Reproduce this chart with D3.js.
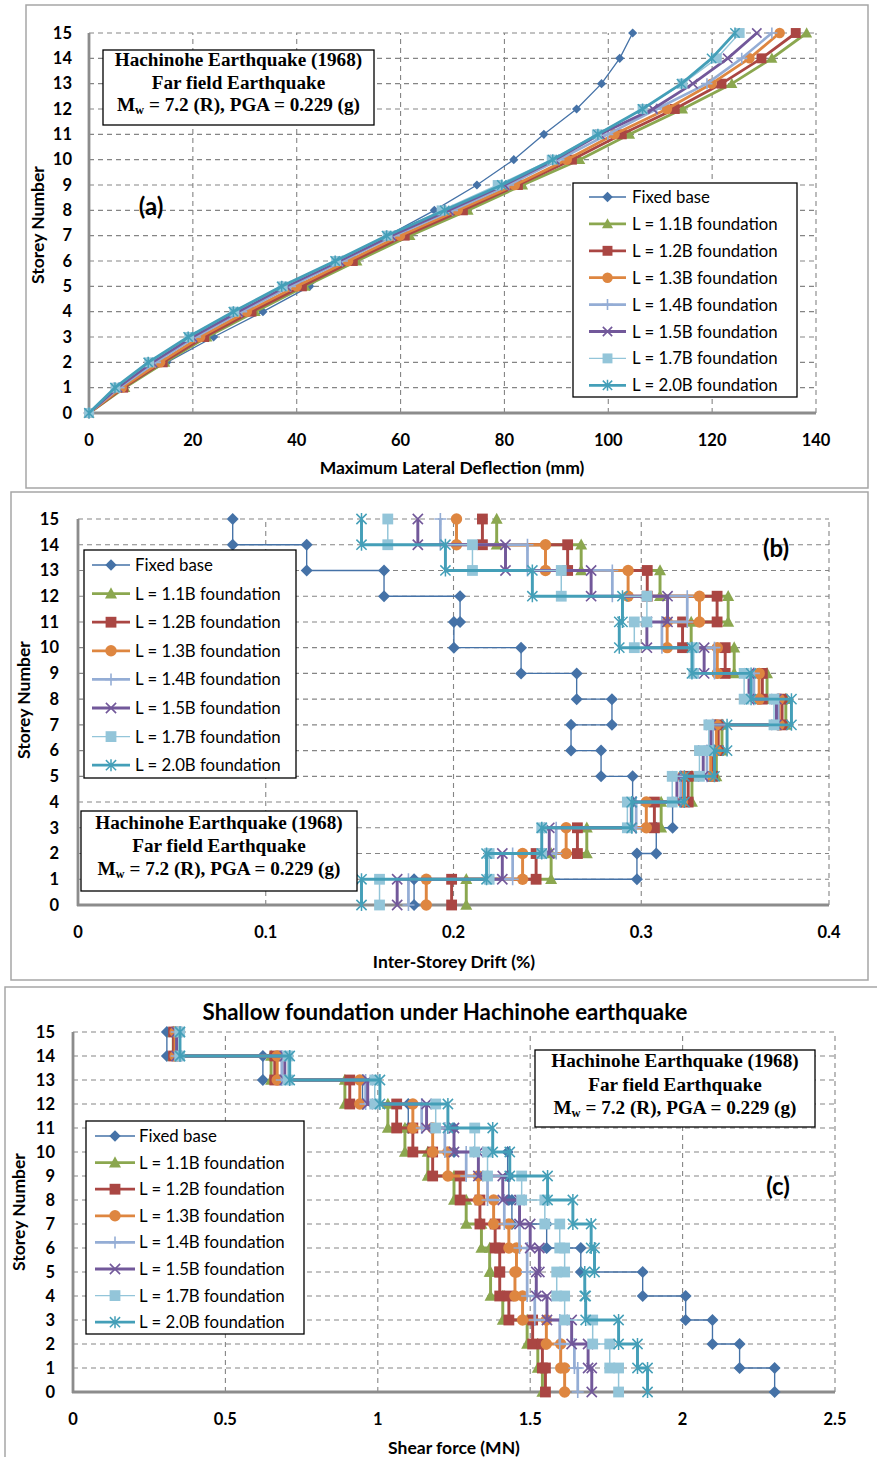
<!DOCTYPE html>
<html><head><meta charset="utf-8">
<script src="https://cdn.jsdelivr.net/npm/d3@7"></script>
<style>body{margin:0;background:#fff} svg{display:block}</style>
</head><body><svg id="c" width="877" height="1457"></svg>
<script>
// ---------------- DATA ----------------
const storeys = [0,1,2,3,4,5,6,7,8,9,10,11,12,13,14,15];
const seriesNames = ["Fixed base","L = 1.1B foundation","L = 1.2B foundation","L = 1.3B foundation",
  "L = 1.4B foundation","L = 1.5B foundation","L = 1.7B foundation","L = 2.0B foundation"];

// (a) Maximum lateral deflection (mm), storey 0..15
const deflFixed = [0,6,15,24,33.5,42.5,48.5,57.5,66.5,74.7,81.8,87.6,93.9,98.7,102.2,104.7];
const defl11 = [0,6.9,14.6,22.7,32,41.6,51.6,61.8,73,83.5,94.5,104.1,114.3,123.8,131.5,138.2];
const defl12 = [0,6.6,14.2,22.2,31.3,41,50.8,60.8,72,82.6,93,102.6,112.8,121.8,129.5,136.1];
const defl13 = [0,6.3,13.7,21.4,30.4,40,49.9,59.9,71,82,92,101.2,111.3,119.9,127.2,133];
const defl14 = [0,5.8,12.8,20.5,29.4,38.8,48.8,58.8,70,80.8,90.5,99.9,109.3,119,125.7,131.5];
const defl15 = [0,5.5,12.2,19.9,28.7,38,48.2,58.2,69.3,80,89.7,98.4,108.6,116.3,123,128.6];
const defl17 = [0,5.1,11.6,19.3,28,37.3,47.6,57.5,67.9,78.7,89.1,97.8,106.6,114.3,120.9,125.3];
const defl20 = [0,5,11.4,19.1,27.8,37.1,47.4,57.3,68.5,79.5,89.3,98,106.6,114.1,119.9,124.4];

// (b) Inter-storey drift (%), storey 1..15
const driftFixed = [0.179,0.2977,0.308,0.3167,0.2954,0.2786,0.2626,0.2844,0.2656,0.236,0.2002,0.2035,0.163,0.1218,0.0824];
const drift11 = [0.2068,0.252,0.271,0.3106,0.327,0.340,0.343,0.377,0.367,0.3495,0.3266,0.3463,0.31,0.268,0.223];
const drift12 = [0.199,0.244,0.266,0.307,0.325,0.338,0.341,0.375,0.3645,0.3447,0.322,0.3404,0.3032,0.2608,0.2154];
const drift13 = [0.1855,0.2368,0.26,0.3027,0.322,0.337,0.340,0.3735,0.3628,0.3405,0.3138,0.331,0.293,0.249,0.2016];
const drift14 = [0.176,0.2315,0.2547,0.2973,0.321,0.335,0.338,0.373,0.360,0.339,0.311,0.3245,0.2846,0.2394,0.193];
const drift15 = [0.170,0.226,0.251,0.2947,0.319,0.333,0.337,0.372,0.3574,0.3335,0.303,0.314,0.2733,0.2277,0.181];
const drift17 = [0.1606,0.219,0.247,0.2926,0.3165,0.331,0.336,0.3707,0.3548,0.328,0.2963,0.303,0.2574,0.2101,0.165];
const drift20 = [0.151,0.2176,0.247,0.295,0.323,0.339,0.3457,0.38,0.3585,0.327,0.2883,0.29,0.242,0.1957,0.151];

// (c) Shear force (MN), storey 1..15
const shearFixed = [2.302,2.187,2.098,2.01,1.869,1.666,1.554,1.44,1.43,1.426,1.25,1.10,0.95,0.623,0.308];
const shear11 = [1.54,1.525,1.49,1.41,1.37,1.367,1.34,1.29,1.25,1.164,1.089,1.033,0.892,0.65,0.329];
const shear12 = [1.55,1.54,1.508,1.43,1.40,1.40,1.385,1.335,1.27,1.18,1.115,1.062,0.908,0.662,0.33];
const shear13 = [1.613,1.6,1.553,1.475,1.45,1.455,1.43,1.38,1.33,1.23,1.18,1.115,0.941,0.67,0.335];
const shear14 = [1.656,1.645,1.597,1.515,1.49,1.49,1.465,1.415,1.36,1.29,1.22,1.144,0.96,0.685,0.34];
const shear15 = [1.702,1.69,1.636,1.555,1.52,1.53,1.50,1.465,1.41,1.33,1.25,1.16,0.967,0.695,0.34];
const shear17 = [1.79,1.761,1.705,1.613,1.587,1.613,1.597,1.548,1.472,1.36,1.318,1.19,0.99,0.705,0.35];
const shear20 = [1.885,1.852,1.79,1.682,1.679,1.711,1.70,1.64,1.557,1.433,1.377,1.23,1.007,0.711,0.351];

const ticksA = [0,20,40,60,80,100,120,140];
const ticksB = [0,0.1,0.2,0.3,0.4];
const ticksC = [0,0.5,1,1.5,2,2.5];
const tickLabelsB = ["0","0.1","0.2","0.3","0.4"];
const tickLabelsC = ["0","0.5","1","1.5","2","2.5"];

// ---------------- STYLE ----------------
const colors = ["#4572A7","#8BA74F","#AA4643","#DE8640","#94ADD5","#72589A","#93C5D9","#449FB8"];
const shapes = ["diamond","triangle","square","circle","plus","x","square","star"];
const lineW = [1.3,2.8,2.8,2.8,2.6,2.8,1.4,2.8];

const SANS = "Lato, 'Open Sans', sans-serif";
const SERIF = "'Liberation Serif', 'DejaVu Serif', serif";
const svg = d3.select("#c");

function marker(g, shape, x, y, s, color){
  if(shape==="diamond"){
    g.append("path").attr("d",`M${x},${y-s}L${x+s},${y}L${x},${y+s}L${x-s},${y}Z`).attr("fill",color);
  } else if(shape==="triangle"){
    g.append("path").attr("d",`M${x},${y-s*1.05}L${x+s},${y+s*0.8}L${x-s},${y+s*0.8}Z`).attr("fill",color);
  } else if(shape==="square"){
    g.append("rect").attr("x",x-s*0.9).attr("y",y-s*0.9).attr("width",s*1.8).attr("height",s*1.8).attr("fill",color);
  } else if(shape==="circle"){
    g.append("circle").attr("cx",x).attr("cy",y).attr("r",s*0.95).attr("fill",color);
  } else if(shape==="plus"){
    g.append("path").attr("d",`M${x-s},${y}H${x+s}M${x},${y-s}V${y+s}`).attr("stroke",color).attr("stroke-width",1.6).attr("fill","none");
  } else if(shape==="x"){
    const k=s*0.85;
    g.append("path").attr("d",`M${x-k},${y-k}L${x+k},${y+k}M${x-k},${y+k}L${x+k},${y-k}`).attr("stroke",color).attr("stroke-width",1.6).attr("fill","none");
  } else if(shape==="star"){
    const k=s*0.85;
    g.append("path").attr("d",`M${x-k},${y-k}L${x+k},${y+k}M${x-k},${y+k}L${x+k},${y-k}M${x},${y-s}V${y+s}`).attr("stroke",color).attr("stroke-width",1.5).attr("fill","none");
  }
}

function frame(x0,y0,x1,y1){
  svg.append("rect").attr("x",x0).attr("y",y0).attr("width",x1-x0).attr("height",y1-y0)
    .attr("fill","none").attr("stroke","#a6a6a6").attr("stroke-width",1.5);
}

function axesGrid(x, y, ticks, labels, tickBase, labelRightX){
  const g = svg.append("g");
  const [x0,x1] = x.range(), [y0,y1] = y.range();
  storeys.filter(s=>s>0).forEach(s=>{
    g.append("line").attr("x1",x0).attr("x2",x1).attr("y1",y(s)).attr("y2",y(s))
      .attr("stroke","#858585").attr("stroke-width",1.1).attr("stroke-dasharray","5,4");
  });
  ticks.filter(t=>t>0).forEach(t=>{
    g.append("line").attr("x1",x(t)).attr("x2",x(t)).attr("y1",y0).attr("y2",y1)
      .attr("stroke","#858585").attr("stroke-width",1.1).attr("stroke-dasharray","5,4");
  });
  g.append("line").attr("x1",x0).attr("x2",x0).attr("y1",y0+1).attr("y2",y1).attr("stroke","#8c8c8c").attr("stroke-width",2.8);
  g.append("line").attr("x1",x0-1).attr("x2",x1).attr("y1",y0).attr("y2",y0).attr("stroke","#8c8c8c").attr("stroke-width",2.8);
  ticks.forEach((t,i)=>{
    g.append("text").attr("x",x(t)).attr("y",tickBase).attr("text-anchor","middle")
      .attr("font-family",SANS).attr("font-weight","bold").attr("font-size",16.5).attr("fill","#000")
      .text(labels ? labels[i] : t);
  });
  storeys.forEach(s=>{
    g.append("text").attr("x",labelRightX).attr("y",y(s)+5.8).attr("text-anchor","end")
      .attr("font-family",SANS).attr("font-weight","bold").attr("font-size",16.5).attr("fill","#000").text(s);
  });
}

function axisTitles(xt, xtx, xty, ytx, yty){
  svg.append("text").attr("x",xtx).attr("y",xty).attr("text-anchor","middle")
    .attr("font-family",SANS).attr("font-weight","bold").attr("font-size",17.5).text(xt);
  svg.append("text").attr("transform",`translate(${ytx},${yty}) rotate(-90)`).attr("text-anchor","middle")
    .attr("font-family",SANS).attr("font-weight","bold").attr("font-size",17.5).text("Storey Number");
}

function infoBox(x0,y0,x1,y1,base,gap){
  svg.append("rect").attr("x",x0).attr("y",y0).attr("width",x1-x0).attr("height",y1-y0)
    .attr("fill","#fff").attr("stroke","#000").attr("stroke-width",1.3);
  const cx=(x0+x1)/2;
  const t = (yy)=>svg.append("text").attr("x",cx).attr("y",yy).attr("text-anchor","middle")
    .attr("font-family",SERIF).attr("font-weight","bold").attr("font-size",19.2);
  t(base).text("Hachinohe Earthquake (1968)");
  t(base+gap).text("Far field Earthquake");
  const l3 = t(base+2*gap);
  l3.append("tspan").text("M");
  l3.append("tspan").attr("font-size",12.5).attr("dy",3).text("w");
  l3.append("tspan").attr("dy",-3).text(" = 7.2 (R),  PGA  = 0.229 (g)");
}

function legend(x0,y0,x1,y1,firstY,step,lx0,lx1,tx,ms){
  svg.append("rect").attr("x",x0).attr("y",y0).attr("width",x1-x0).attr("height",y1-y0)
    .attr("fill","#fff").attr("stroke","#000").attr("stroke-width",1.3);
  const g = svg.append("g");
  seriesNames.forEach((n,i)=>{
    const yy = firstY + i*step;
    g.append("line").attr("x1",lx0).attr("x2",lx1).attr("y1",yy).attr("y2",yy)
      .attr("stroke",colors[i]).attr("stroke-width",lineW[i]);
    marker(g, shapes[i], (lx0+lx1)/2, yy, i===0?ms*0.95:ms, colors[i]);
    g.append("text").attr("x",tx).attr("y",yy+6).attr("font-family",SANS).attr("font-size",16.8).attr("fill","#000").text(n);
  });
}

function tag(txt,x,y){
  svg.append("text").attr("x",x).attr("y",y).attr("text-anchor","middle").attr("font-family",SANS)
    .attr("font-weight","bold").attr("font-size",24).text(txt);
}

function stepPts(vals){
  const pts=[];
  for(let i=vals.length;i>=1;i--){ pts.push([vals[i-1], i]); pts.push([vals[i-1], i-1]); }
  return pts;
}

function drawSeries(x,y,list,step,ms,fixedMs,wScale){
  list.forEach((vals,i)=>{
    const pts = step ? stepPts(vals) : vals.map((v,k)=>[v,storeys[k]]);
    const g = svg.append("g");
    g.append("path").attr("d", d3.line().x(d=>x(d[0])).y(d=>y(d[1]))(pts))
      .attr("fill","none").attr("stroke",colors[i]).attr("stroke-width",lineW[i]*wScale).attr("stroke-linejoin","round");
    pts.forEach(p=>marker(g, shapes[i], x(p[0]), y(p[1]), i===0?fixedMs:ms, colors[i]));
  });
}

// ---------------- PANEL A ----------------
frame(26,5,868,488);
const xA = d3.scaleLinear().domain([0,140]).range([89,816]);
const yA = d3.scaleLinear().domain([0,15]).range([413,33]);
axesGrid(xA,yA,ticksA,null,446,72);
drawSeries(xA,yA,[deflFixed,defl11,defl12,defl13,defl14,defl15,defl17,defl20],false,5.5,4.6,1);
axisTitles("Maximum Lateral Deflection (mm)",452,474,44,225);
infoBox(103,50,374,125,66,22.5);
legend(573,183,797,397,197,26.9,589,626,632,5.5);
tag("(a)",151,215);

// ---------------- PANEL B ----------------
frame(11,492,868,980);
const xB = d3.scaleLinear().domain([0,0.4]).range([78,829]);
const yB = d3.scaleLinear().domain([0,15]).range([905,519]);
axesGrid(xB,yB,ticksB,tickLabelsB,938,59);
drawSeries(xB,yB,[driftFixed,drift11,drift12,drift13,drift14,drift15,drift17,drift20],true,6,6,1.05);
axisTitles("Inter-Storey Drift (%)",454,968,30,700);
legend(84,550,296,778,565,28.6,92,130,135,6);
infoBox(81,811,357,891,829,23);
tag("(b)",776,557);

// ---------------- PANEL C ----------------
frame(5,987,884,1464);
const xC = d3.scaleLinear().domain([0,2.5]).range([73,835]);
const yC = d3.scaleLinear().domain([0,15]).range([1392,1032]);
axesGrid(xC,yC,ticksC,tickLabelsC,1425,55);
drawSeries(xC,yC,[shearFixed,shear11,shear12,shear13,shear14,shear15,shear17,shear20],true,6,6,1.05);
axisTitles("Shear force  (MN)",454,1454,25,1212);
svg.append("text").attr("x",445).attr("y",1020).attr("text-anchor","middle").attr("font-family",SANS)
  .attr("font-weight","bold").attr("font-size",22.3).text("Shallow foundation under Hachinohe earthquake");
legend(86,1121,304,1334,1136,26.6,95,135,139,6);
infoBox(535,1050,815,1127,1067,23.5);
tag("(c)",778,1195);
</script></body></html>
